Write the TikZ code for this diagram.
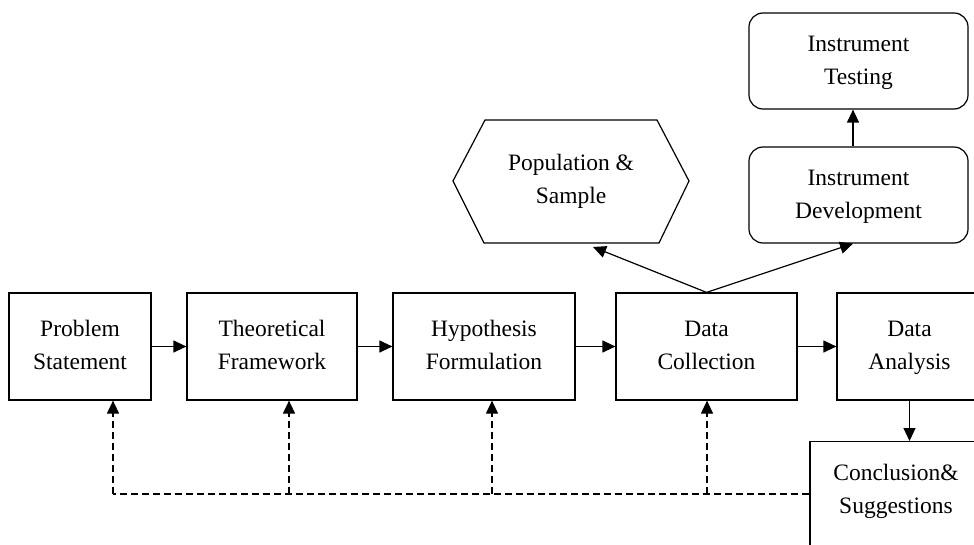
\documentclass[tikz,border=0pt]{standalone}
\usepackage{fontspec}
\setmainfont{Liberation Serif}
\usetikzlibrary{arrows.meta}
\newcommand{\ls}{\strut}
\begin{document}
\begin{tikzpicture}[x=1pt,y=1pt,
  lbl/.style={inner sep=0pt, align=center, font=\fontsize{23.5}{33}\selectfont},
  box/.style={lbl, draw, line width=1.2pt, rectangle},
  rbox/.style={box, rounded corners=14pt},
  arr/.style={line width=1.2pt, -{Triangle[length=13pt,width=12pt]}},
  fbline/.style={line width=1.2pt, dash pattern=on 7pt off 4pt},
  fb/.style={arr, dash pattern=on 7pt off 4pt}]
\useasboundingbox (0,0) rectangle (974,544);
\clip (0,0) rectangle (974,544);
% main row
\node[box, minimum width=142, minimum height=107] (prob) at (80,197.5) {Problem\ls\\Statement\ls};
\node[box, minimum width=170, minimum height=107] (theo) at (272,197.5) {Theoretical\ls\\Framework\ls};
\node[box, minimum width=182, minimum height=107] (hypo) at (484,197.5) {Hypothesis\ls\\Formulation\ls};
\node[box, minimum width=181, minimum height=107] (coll) at (706.5,197.5) {Data\ls\\Collection\ls};
\node[box, minimum width=145, minimum height=107] (anal) at (909.5,197.5) {Data\ls\\Analysis\ls};
% conclusion
\node[box, minimum width=172, minimum height=120, anchor=north] (concl) at (896,103) {};
\node[lbl] (conclT) at (896,54) {Conclusion\&\ls\\Suggestions\ls};
% instruments
\node[rbox, minimum width=219, minimum height=96] (dev) at (858.5,349) {Instrument\ls\\Development\ls};
\node[rbox, minimum width=219, minimum height=96] (test) at (858.5,483) {Instrument\ls\\Testing\ls};
% hexagon
\coordinate (h1) at (453,363);
\coordinate (h2) at (485,424);
\coordinate (h3) at (657,424);
\coordinate (h4) at (689,363);
\coordinate (h5) at (659,301);
\coordinate (h6) at (484,301);
\draw[line width=1.2pt, line join=miter] (h1) -- (h2) -- (h3) -- (h4) -- (h5) -- (h6) -- cycle;
\node[lbl] (pop) at (571,364) {Population \&\ls\\Sample\ls};
\coordinate (popb) at (593,297);
% arrows
\draw[arr] (prob) -- (theo);
\draw[arr] (theo) -- (hypo);
\draw[arr] (hypo) -- (coll);
\draw[arr] (coll) -- (anal);
\draw[arr] (anal.south) -- (anal.south |- concl.north);
\draw[arr] (coll.north) -- (popb);
\draw[arr] (coll.north) -- ([xshift=-5.5pt]dev.south);
\draw[arr] ([xshift=-5.5pt]dev.north) -- ([xshift=-5.5pt]test.south);
% feedback
\coordinate (f1) at (113,50);
\coordinate (f2) at (289,50);
\coordinate (f3) at (492,50);
\coordinate (f4) at (707,50);
\draw[fbline] (concl.north west |- f1) -- (f1);
\draw[fb] (f1) -- (f1 |- prob.south);
\draw[fb] (f2) -- (f2 |- theo.south);
\draw[fb] (f3) -- (f3 |- hypo.south);
\draw[fb] (f4) -- (f4 |- coll.south);
\end{tikzpicture}
\end{document}
